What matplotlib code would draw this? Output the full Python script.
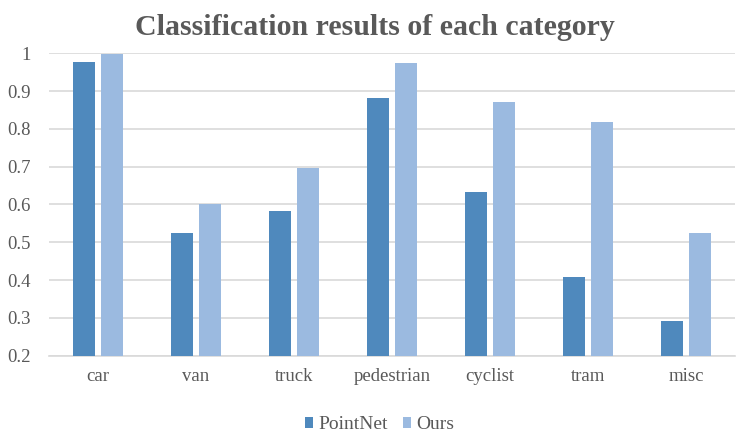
import matplotlib
matplotlib.use("Agg")
import matplotlib.pyplot as plt
import numpy as np

categories = ["car", "van", "truck", "pedestrian", "cyclist", "tram", "misc"]
pointnet = [0.977, 0.525, 0.583, 0.882, 0.633, 0.408, 0.292]
ours = [0.997, 0.601, 0.697, 0.975, 0.871, 0.818, 0.525]
yticks = [0.2, 0.3, 0.4, 0.5, 0.6, 0.7, 0.8, 0.9, 1.0]
ytick_labels = ["0.2", "0.3", "0.4", "0.5", "0.6", "0.7", "0.8", "0.9", "1"]

plt.rcParams['font.family'] = ['Liberation Serif', 'DejaVu Serif']
txt = "#595959"

fig = plt.figure(figsize=(7.44, 4.44), dpi=100)
ax = fig.add_axes([0.0659, 0.199, 0.922, 0.681])

x = np.arange(len(categories))
w = 0.2245
off = (w + 0.061) / 2
ax.bar(x - off, pointnet, w, color="#4F89BD", label="PointNet", zorder=3)
ax.bar(x + off, ours, w, color="#9BBAE0", label="Ours", zorder=3)

ax.set_xlim(-0.5, len(categories) - 0.5)
ax.set_ylim(0.2, 1.0)
ax.set_yticks(yticks)
ax.set_yticklabels(ytick_labels)
ax.set_xticks(x)
ax.set_xticklabels(categories)
ax.tick_params(axis='both', length=0, labelsize=13.5, colors=txt)
ax.tick_params(axis='y', pad=13)
ax.tick_params(axis='x', pad=9)
ax.grid(axis='y', color="#D9D9D9", linewidth=1.2, zorder=0)
ax.set_axisbelow(True)
for s in ["top", "right", "left"]:
    ax.spines[s].set_visible(False)
ax.spines["bottom"].set_color("#D9D9D9")
ax.spines["bottom"].set_linewidth(1.2)

fig.text(0.504, 0.938, "Classification results of each category", ha='center', va='center',
         fontsize=21.5, fontweight='bold', color=txt)

leg = fig.legend(loc='center', bbox_to_anchor=(0.51, 0.043), ncol=2, frameon=False,
                 fontsize=14, handlelength=0.42, handleheight=0.42, handletextpad=0.25,
                 columnspacing=0.8, labelcolor=txt)

fig.savefig("out.png", dpi=100)
